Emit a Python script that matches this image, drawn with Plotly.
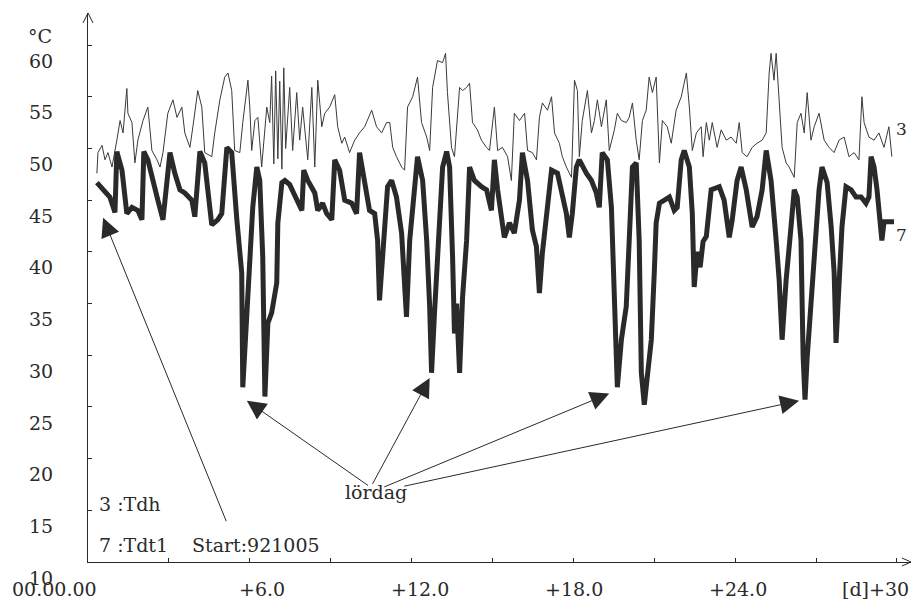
import plotly.graph_objects as go

# Series 7 : Tdt1 (thick line)  -- (day, degC)
tdt1 = [(0.33,46.7),(0.63,45.8),(0.81,45.3),(1.00,43.8),(1.07,49.7),(1.26,47.9),(1.37,45.3),(1.44,43.7),
        (1.63,44.3),(1.85,44.0),(2.00,43.1),(2.07,49.7),(2.22,48.9),(2.41,46.7),(2.59,45.0),(2.78,43.1),
        (3.04,49.6),(3.22,47.6),(3.41,46.0),(3.59,45.7),(3.85,45.0),(3.96,43.4),(4.15,49.7),(4.33,48.6),
        (4.44,46.0),(4.59,42.6),(4.81,43.1),(4.96,43.7),(5.15,50.1),(5.33,49.6),(5.52,43.1),(5.59,41.1),
        (5.70,38.0),(5.74,26.9),(5.89,34.7),(6.00,39.5),(6.11,44.3),(6.26,48.2),(6.37,46.9),(6.48,39.5),
        (6.56,26.0),(6.67,33.1),(6.81,34.1),(7.00,37.0),(7.04,42.8),(7.19,46.7),(7.30,46.9),(7.48,46.5),
        (7.74,45.0),(7.93,44.0),(8.00,47.9),(8.15,46.9),(8.41,45.7),(8.52,44.0),(8.70,44.7),(8.85,43.7),
        (9.04,43.1),(9.15,48.9),(9.33,47.9),(9.52,45.0),(9.78,44.7),(9.96,43.7),(10.07,49.6),(10.26,46.9),
        (10.44,44.0),(10.63,43.7),(10.74,41.1),(10.81,35.3),(10.93,40.5),(11.11,46.3),(11.26,46.9),(11.44,45.3),
        (11.63,41.8),(11.81,33.7),(11.93,41.1),(12.11,46.7),(12.22,49.2),(12.41,46.9),(12.56,41.1),(12.67,34.7),
        (12.74,28.3),(12.85,34.1),(13.04,42.8),(13.15,48.2),(13.30,49.7),(13.41,48.2),(13.52,39.5),(13.59,32.1),
        (13.67,35.0),(13.78,28.3),(13.89,35.6),(14.04,41.1),(14.15,48.2),(14.33,46.9),(14.59,46.3),(14.78,46.0),
        (14.96,44.0),(15.07,48.9),(15.19,46.0),(15.33,43.1),(15.44,41.4),(15.63,42.8),(15.81,41.8),(16.00,45.0),
        (16.11,49.6),(16.30,46.9),(16.48,42.1),(16.63,40.5),(16.74,36.0),(16.85,39.9),(17.04,44.3),(17.19,47.9),
        (17.41,47.6),(17.59,45.7),(17.74,43.7),(17.85,41.4),(17.96,43.7),(18.11,48.2),(18.22,48.9),(18.48,47.6),
        (18.67,46.9),(18.85,45.7),(18.96,44.3),(19.07,49.6),(19.26,48.9),(19.41,44.3),(19.52,36.3),(19.63,26.9),
        (19.78,31.5),(19.96,34.7),(20.07,41.1),(20.19,48.2),(20.33,48.6),(20.44,41.1),(20.52,28.3),(20.63,25.2),
        (20.74,27.9),(20.89,31.5),(21.00,38.0),(21.07,42.8),(21.19,44.7),(21.37,45.0),(21.56,45.3),(21.74,44.0),
        (21.85,44.3),(22.00,48.9),(22.11,49.8),(22.30,48.2),(22.41,43.7),(22.48,36.6),(22.59,40.0),(22.70,38.5),
        (22.81,41.0),(22.93,41.5),(23.11,46.0),(23.41,46.3),(23.59,45.0),(23.78,41.4),(23.89,43.1),(24.07,46.9),
        (24.22,48.2),(24.41,46.0),(24.63,42.4),(24.81,43.4),(25.00,46.0),(25.15,49.8),(25.33,46.9),(25.52,41.1),
        (25.63,37.3),(25.74,31.5),(25.89,37.3),(26.07,42.4),(26.19,46.0),(26.30,45.3),(26.44,41.1),(26.52,29.8),
        (26.59,25.7),(26.67,29.8),(26.81,34.7),(27.00,41.1),(27.11,46.0),(27.22,48.2),(27.41,46.7),(27.56,42.4),
        (27.67,38.0),(27.74,31.2),(27.85,36.3),(27.96,42.4),(28.11,46.3),(28.30,46.0),(28.48,45.3),(28.67,45.3),
        (28.85,44.7),(28.96,45.3),(29.04,49.2),(29.15,48.2),(29.26,46.0),(29.41,42.4),(29.44,41.1),(29.52,42.9),
        (29.70,42.9),(29.89,42.9)]

# Series 3 : Tdh (thin line)  -- (day, degC)
tdh = [(0.33,47.6),(0.37,49.6),(0.52,50.3),(0.63,48.9),(0.74,49.6),(0.89,48.2),(1.07,50.8),(1.19,52.7),
       (1.30,51.5),(1.44,55.8),(1.48,53.4),(1.63,52.5),(1.74,48.6),(1.85,50.8),(2.04,52.7),(2.22,54.0),
       (2.37,49.8),(2.56,48.9),(2.67,48.2),(2.78,49.6),(2.96,53.4),(3.15,54.7),(3.30,53.0),(3.48,54.0),
       (3.59,51.5),(3.78,50.1),(3.89,52.1),(4.07,55.6),(4.22,54.0),(4.33,49.6),(4.59,49.2),(4.70,51.5),
       (4.89,54.7),(5.07,56.9),(5.19,57.3),(5.33,55.6),(5.44,49.8),(5.63,49.6),(5.74,52.5),(5.93,56.6),
       (6.00,54.0),(6.07,49.8),(6.19,52.7),(6.30,53.0),(6.44,48.2),(6.63,54.0),(6.74,52.5),(6.81,57.0),
       (6.89,48.5),(6.96,57.5),(7.04,49.0),(7.11,56.5),(7.19,48.0),(7.26,57.8),(7.33,50.0),(7.48,55.9),
       (7.59,49.8),(7.74,55.4),(7.85,50.8),(7.96,54.0),(8.15,48.9),(8.30,55.9),(8.41,48.2),(8.52,56.6),
       (8.67,52.1),(8.78,53.4),(8.96,54.0),(9.15,55.2),(9.26,52.1),(9.41,50.5),(9.52,51.1),(9.70,49.6),
       (9.89,50.8),(10.07,51.5),(10.26,52.1),(10.52,53.7),(10.70,52.1),(10.89,51.5),(11.07,52.5),(11.19,52.5),
       (11.30,50.1),(11.44,49.2),(11.63,48.2),(11.74,47.9),(11.85,54.0),(12.04,55.0),(12.22,56.9),(12.37,52.5),
       (12.56,51.1),(12.67,49.8),(12.78,55.9),(12.96,58.5),(13.15,58.3),(13.26,59.2),(13.33,55.4),(13.48,50.1),
       (13.59,49.2),(13.78,55.9),(13.89,55.6),(14.04,55.9),(14.15,56.3),(14.26,52.5),(14.44,51.8),(14.59,50.8),
       (14.78,50.1),(14.89,49.8),(15.07,54.0),(15.19,49.8),(15.37,50.1),(15.56,49.2),(15.70,46.9),(15.81,53.4),
       (16.00,52.7),(16.19,53.4),(16.30,49.8),(16.48,49.6),(16.63,48.9),(16.74,53.0),(16.85,54.4),(17.04,53.7),
       (17.19,55.0),(17.30,51.5),(17.48,50.5),(17.59,49.2),(17.74,48.2),(17.93,47.2),(18.04,56.6),(18.15,55.6),
       (18.22,49.2),(18.33,52.7),(18.52,55.6),(18.67,51.5),(18.78,52.7),(18.89,54.7),(19.04,52.1),(19.22,54.7),
       (19.33,49.8),(19.52,51.8),(19.63,53.4),(19.78,52.7),(19.96,52.5),(20.07,53.0),(20.19,54.4),(20.33,50.8),
       (20.44,48.9),(20.56,52.7),(20.70,53.7),(20.81,56.9),(20.93,55.4),(21.07,56.9),(21.19,48.6),(21.30,52.7),
       (21.48,52.1),(21.63,50.5),(21.81,53.7),(22.00,55.0),(22.19,57.3),(22.30,54.0),(22.41,49.8),(22.56,51.5),
       (22.74,52.1),(22.81,49.2),(22.93,52.5),(23.04,50.8),(23.15,52.5),(23.33,50.1),(23.48,51.8),(23.67,50.8),
       (23.85,51.1),(24.04,50.5),(24.15,52.5),(24.26,49.6),(24.44,49.2),(24.63,50.1),(24.81,50.5),(25.00,50.8),
       (25.15,51.5),(25.26,57.3),(25.33,59.2),(25.44,56.6),(25.52,59.2),(25.63,54.7),(25.74,50.1),(25.89,48.6),
       (26.00,48.2),(26.19,47.2),(26.30,52.5),(26.44,53.4),(26.56,51.5),(26.67,55.4),(26.81,50.8),(26.93,52.1),
       (27.11,53.4),(27.30,50.8),(27.48,50.1),(27.67,49.6),(27.85,50.8),(28.04,51.1),(28.22,49.2),(28.41,49.6),
       (28.59,48.9),(28.70,55.0),(28.78,52.5),(28.96,51.1),(29.15,50.8),(29.33,51.5),(29.52,50.1),(29.70,52.1),
       (29.81,49.2)]

y_ticks = [10, 15, 20, 25, 30, 35, 40, 45, 50, 55, 60]
x_ticks = [0, 3, 6, 9, 12, 15, 18, 21, 24, 27, 30]
x_labels = ["+6.0", "+12.0", "+18.0", "+24.0", "[d]+30"]
x_label_pos = [6.44, 12.3, 18.04, 24.11, 29.2]

# lördag arrows: (tip_day, tip_val, tail_day, tail_val)
lordag_arrows = [(5.89, 25.6, 10.44, 17.3), (12.67, 27.8, 10.52, 17.4),
                 (19.33, 26.3, 10.93, 17.2), (26.37, 25.6, 11.67, 17.3)]
start_arrow = (0.56, 43.3, 5.15, 13.8)

FONT = "DejaVu Serif"
INK = "#2a2a2a"

fig = go.Figure()
fig.add_trace(go.Scatter(x=[p[0] for p in tdh], y=[p[1] for p in tdh], mode="lines",
                         line=dict(color="#3a3a3a", width=1), showlegend=False, hoverinfo="skip"))
fig.add_trace(go.Scatter(x=[p[0] for p in tdt1], y=[p[1] for p in tdt1], mode="lines",
                         line=dict(color=INK, width=5), showlegend=False, hoverinfo="skip"))

ann = []
for tx, ty, ax_, ay_ in lordag_arrows + [start_arrow]:
    ann.append(dict(x=tx, y=ty, ax=ax_, ay=ay_, xref="x", yref="y", axref="x", ayref="y",
                    text="", showarrow=True, arrowhead=2, arrowsize=3.8, arrowwidth=1,
                    arrowcolor=INK, standoff=0, startstandoff=0))

txt = dict(family=FONT, size=19, color=INK)
ann += [
    dict(x=9.45, y=16.8, xref="x", yref="y", text="lördag", showarrow=False, xanchor="left", font=txt),
    dict(x=0.33, y=15.6, xref="x", yref="y", text="3 :Tdh", showarrow=False, xanchor="left", font=txt),
    dict(x=0.33, y=11.6, xref="x", yref="y", text="7 :Tdt1", showarrow=False, xanchor="left", font=txt),
    dict(x=3.78, y=11.6, xref="x", yref="y", text="Start:921005", showarrow=False, xanchor="left", font=txt),
    dict(x=30.18, y=51.9, xref="x", yref="y", text="3", showarrow=False, font=dict(family=FONT, size=17, color=INK)),
    dict(x=30.18, y=41.6, xref="x", yref="y", text="7", showarrow=False, font=dict(family=FONT, size=17, color=INK)),
    dict(x=-0.0583, y=60.87, xref="paper", yref="y", text="°C", showarrow=False,
         xanchor="center", yanchor="middle", font=txt),
    dict(x=-0.0413, y=-0.0492, xref="paper", yref="paper", text="00.00.00", showarrow=False,
         xanchor="center", yanchor="middle", font=txt),
]
for lab, pos in zip(x_labels, x_label_pos):
    ann.append(dict(x=pos, y=-0.0492, xref="x", yref="paper", text=lab, showarrow=False,
                    xanchor="center", yanchor="middle", font=txt))

shapes = [
    dict(type="path", xref="paper", yref="paper",
         path="M -0.0061,0.9818 L 0,1 L 0.0061,0.9818", line=dict(color=INK, width=1)),
    dict(type="path", xref="paper", yref="paper",
         path="M 0.989,0.0073 L 1,0 L 0.989,-0.0073", line=dict(color=INK, width=1)),
]

fig.update_layout(
    width=913, height=601,
    margin=dict(l=88, r=2, t=13, b=39),
    paper_bgcolor="white", plot_bgcolor="white",
    annotations=ann, shapes=shapes,
    font=dict(family=FONT, size=19, color=INK),
)
fig.update_xaxes(range=[0, 30.52], showgrid=False, zeroline=False, showline=True,
                 linecolor=INK, linewidth=1, tickvals=x_ticks, ticks="inside", ticklen=4,
                 tickcolor=INK, showticklabels=False)
fig.update_yaxes(range=[10, 63.1], showgrid=False, zeroline=False, showline=True,
                 linecolor=INK, linewidth=1, tickvals=y_ticks, ticktext=[str(v) for v in y_ticks],
                 ticks="inside", ticklen=4, tickcolor=INK, ticklabelshift=16, ticklabelstandoff=30,
                 tickfont=dict(family=FONT, size=19, color=INK))

fig.write_html("out.html")
